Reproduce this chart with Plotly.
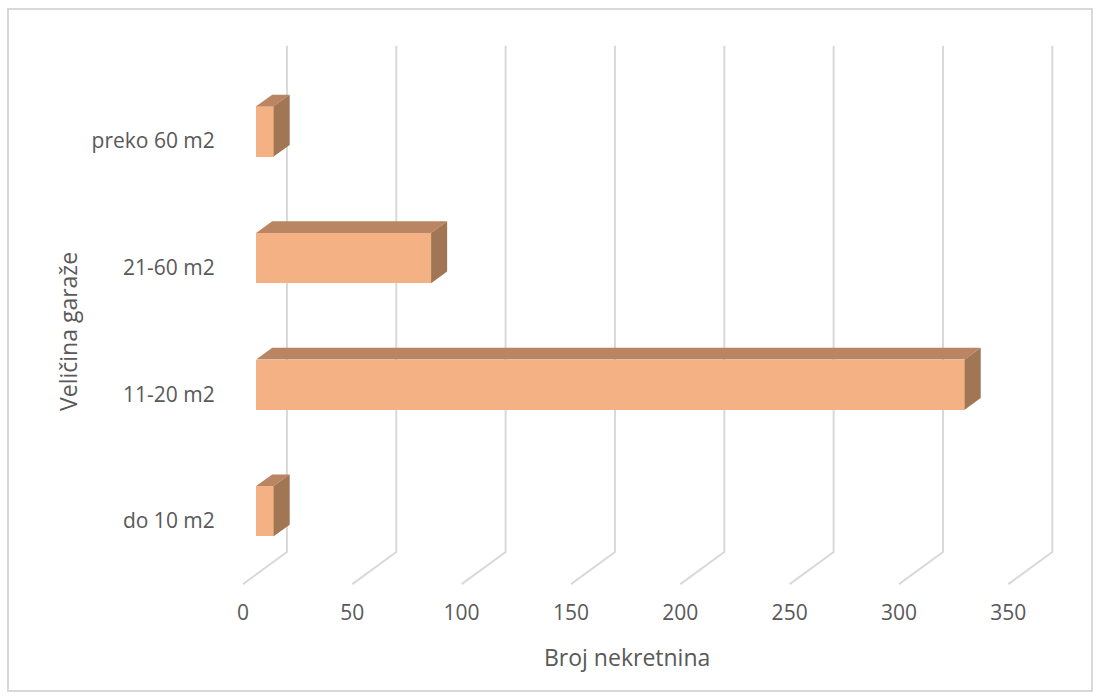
import plotly.graph_objects as go

# Data
categories = ["do 10 m2", "11-20 m2", "21-60 m2", "preko 60 m2"]
counts = [8, 324, 80, 8]
x_ticks = [0, 50, 100, 150, 200, 250, 300, 350]

# Oblique 3D look: full floor depth expressed in axis units
DEPTH_X = 20.12      # horizontal shift of the back wall (value units)
DEPTH_Y = 0.253      # vertical shift of the back wall (category units)
BAR_FRONT = 0.30     # depth fraction where bar front faces sit
BAR_DEPTH = 0.365    # depth fraction occupied by each bar
BAR_H = 0.397        # bar thickness in category units
FLOOR = -0.5
TOP = len(categories) - 0.5

FRONT_C = "#F4B183"
TOP_C = "#BA8562"
SIDE_C = "#A07654"
GRID_C = "#D9D9D9"
TEXT_C = "#595959"
FONT = "Open Sans"
TICK_SIZE = 21
TITLE_SIZE = 23

fig = go.Figure()

ypos = list(range(len(categories)))
x_off = BAR_FRONT * DEPTH_X
y_off = BAR_FRONT * DEPTH_Y
ddx = BAR_DEPTH * DEPTH_X
ddy = BAR_DEPTH * DEPTH_Y

# Front faces
fig.add_trace(go.Bar(
    x=counts, y=[p + y_off for p in ypos], base=[x_off] * len(counts),
    orientation="h", width=BAR_H,
    marker=dict(color=FRONT_C, line=dict(width=0)),
    showlegend=False, hoverinfo="skip"))

# Top and side faces
tx, ty, sx, sy = [], [], [], []
for p, v in zip(ypos, counts):
    x0, x1 = x_off, x_off + v
    yt = p + y_off + BAR_H / 2
    yb = p + y_off - BAR_H / 2
    tx += [x0, x1, x1 + ddx, x0 + ddx, x0, None]
    ty += [yt, yt, yt + ddy, yt + ddy, yt, None]
    sx += [x1, x1, x1 + ddx, x1 + ddx, x1, None]
    sy += [yb, yt, yt + ddy, yb + ddy, yb, None]
fig.add_trace(go.Scatter(x=tx, y=ty, mode="lines", fill="toself",
                         fillcolor=TOP_C, line=dict(width=0, color=TOP_C),
                         hoverinfo="skip", showlegend=False))
fig.add_trace(go.Scatter(x=sx, y=sy, mode="lines", fill="toself",
                         fillcolor=SIDE_C, line=dict(width=0, color=SIDE_C),
                         hoverinfo="skip", showlegend=False))

# Floor diagonals + back-wall verticals for each tick, kept beneath the bars
grid_shapes = []
for v in x_ticks:
    path = (f"M {v},{FLOOR} L {v + DEPTH_X},{FLOOR + DEPTH_Y} "
            f"L {v + DEPTH_X},{TOP + DEPTH_Y}")
    grid_shapes.append(dict(type="path", path=path, xref="x", yref="y",
                            line=dict(color=GRID_C, width=2), layer="below"))

L, R, T, B = 232, 37, 36, 106
W, H = 1100, 699
pw, ph = W - L - R, H - T - B

def px_x(p):
    return (p - L) / pw

def px_y(p):
    return (H - B - p) / ph

border = dict(type="rect", xref="paper", yref="paper",
              x0=px_x(8), x1=px_x(1092), y0=px_y(691), y1=px_y(9),
              line=dict(color="#D9D9D9", width=2), fillcolor="rgba(0,0,0,0)",
              layer="below")

fig.update_layout(
    width=W, height=H, autosize=False,
    margin=dict(l=L, r=R, t=T, b=B),
    paper_bgcolor="white", plot_bgcolor="white",
    font=dict(family=FONT, color=TEXT_C, size=TICK_SIZE),
    xaxis=dict(range=[-5, 375], tickvals=x_ticks, ticktext=[str(t) for t in x_ticks],
               showgrid=False, zeroline=False, showline=False,
               ticks="outside", ticklen=1, tickcolor="rgba(0,0,0,0)",
               tickfont=dict(size=TICK_SIZE, color=TEXT_C, family=FONT), fixedrange=True),
    yaxis=dict(range=[-0.57, 3.83], tickvals=ypos, ticktext=categories,
               showgrid=False, zeroline=False, showline=False,
               ticks="outside", ticklen=12, tickcolor="rgba(0,0,0,0)",
               tickfont=dict(size=TICK_SIZE, color=TEXT_C, family=FONT), fixedrange=True),
    bargap=0,
    shapes=grid_shapes + [border],
    annotations=[
        dict(text="Broj nekretnina", xref="paper", yref="paper",
             x=px_x(627), y=px_y(657), showarrow=False,
             xanchor="center", yanchor="middle",
             font=dict(size=TITLE_SIZE, color=TEXT_C, family=FONT)),
        dict(text="Veličina garaže", xref="paper", yref="paper",
             x=px_x(68), y=px_y(332), showarrow=False, textangle=-90,
             xanchor="center", yanchor="middle",
             font=dict(size=TITLE_SIZE, color=TEXT_C, family=FONT)),
    ],
)

fig.write_html("out.html")
